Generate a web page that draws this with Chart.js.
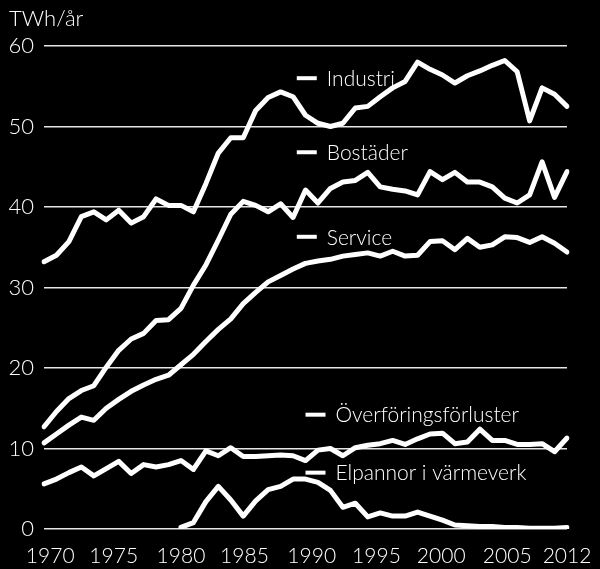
<!DOCTYPE html>
<html>
<head>
<meta charset="utf-8">
<script src="https://cdn.jsdelivr.net/npm/chart.js@4.4.1/dist/chart.umd.min.js"></script>
<style>
  html, body { margin: 0; padding: 0; background: #000; }
  #wrap { width: 600px; height: 569px; }
</style>
</head>
<body>
<div id="wrap"><canvas id="chart" width="600" height="569"></canvas></div>
<script>
const years = ['1970','1971','1972','1973','1974','1975','1976','1977','1978','1979',
  '1980','1981','1982','1983','1984','1985','1986','1987','1988','1989',
  '1990','1991','1992','1993','1994','1995','1996','1997','1998','1999',
  '2000','2001','2002','2003','2004','2005','2006','2007','2008','2009',
  '2010','2011','2012'];
const tickLabels = ['1970','1975','1980','1985','1990','1995','2000','2005','2012'];
// the source spaces its year labels evenly, a little off the data grid
const tickLabelAt = [1970.5, 1975.6, 1981.0, 1986.1, 1991.5, 1996.7, 2001.9, 2007.2, 2012];

const industri = [33.2, 34.0, 35.7, 38.8, 39.4, 38.4, 39.6, 38.0, 38.8, 41.0,
  40.2, 40.2, 39.4, 42.9, 46.7, 48.6, 48.6, 52.0, 53.6, 54.3,
  53.7, 51.4, 50.4, 50.0, 50.4, 52.3, 52.5, 53.7, 54.8, 55.6,
  58.0, 57.1, 56.4, 55.4, 56.3, 56.9, 57.6, 58.2, 56.8, 50.7,
  54.8, 54.0, 52.5];
const bostader = [12.7, 14.6, 16.2, 17.2, 17.8, 20.1, 22.2, 23.6, 24.3, 25.9,
  26.0, 27.4, 30.3, 32.8, 35.9, 39.1, 40.7, 40.2, 39.4, 40.4,
  38.7, 42.1, 40.5, 42.3, 43.1, 43.3, 44.3, 42.5, 42.2, 42.0,
  41.5, 44.4, 43.4, 44.3, 43.1, 43.1, 42.5, 41.1, 40.5, 41.5,
  45.6, 41.2, 44.4];
const service = [10.7, 11.8, 12.9, 13.9, 13.5, 15.0, 16.1, 17.1, 17.9, 18.6,
  19.1, 20.4, 21.7, 23.3, 24.8, 26.1, 28.0, 29.4, 30.7, 31.5,
  32.3, 33.0, 33.3, 33.5, 33.9, 34.1, 34.3, 33.9, 34.5, 33.9,
  34.0, 35.7, 35.8, 34.7, 36.1, 35.0, 35.3, 36.3, 36.2, 35.6,
  36.3, 35.5, 34.4];
const overforing = [5.6, 6.2, 7.0, 7.7, 6.6, 7.5, 8.4, 6.9, 8.0, 7.7,
  8.0, 8.5, 7.4, 9.7, 9.1, 10.1, 9.0, 9.0, 9.1, 9.2,
  9.1, 8.5, 9.8, 10.0, 9.1, 10.1, 10.4, 10.6, 11.0, 10.5,
  11.2, 11.8, 11.9, 10.6, 10.8, 12.4, 11.0, 11.0, 10.5, 10.5,
  10.6, 9.6, 11.3];
const elpannor = [null, null, null, null, null, null, null, null, null, null,
  null, 0.2, 0.8, 3.4, 5.3, 3.6, 1.6, 3.5, 4.9, 5.3,
  6.2, 6.2, 5.8, 4.8, 2.7, 3.2, 1.5, 2.0, 1.6, 1.6,
  2.1, 1.6, 1.1, 0.5, 0.4, 0.3, 0.3, 0.2, 0.2, 0.1,
  0.1, 0.1, 0.2];

const seriesNames = ['Industri', 'Bostäder', 'Service', 'Överföringsförluster', 'Elpannor i värmeverk'];
const seriesValues = [industri, bostader, service, overforing, elpannor];
// where each inline label sits (category index, value)
const labelIndex = [20.3, 20.3, 20.3, 21.0, 21.0];
const labelValue = [56.0, 46.8, 36.3, 14.2, 7.0];

const FONT = '"Lato Light", Lato, "Open Sans", sans-serif';

const inlineLabels = {
  id: 'inlineLabels',
  afterDatasetsDraw(chart) {
    const ctx = chart.ctx;
    const xs = chart.scales.x, ys = chart.scales.y;
    ctx.save();
    ctx.fillStyle = '#fff';
    ctx.strokeStyle = '#fff';
    ctx.lineWidth = 4;
    ctx.lineCap = 'butt';
    ctx.font = '300 21px ' + FONT;
    ctx.textBaseline = 'middle';
    seriesNames.forEach((name, i) => {
      const px = xs.getPixelForValue(labelIndex[i]);
      const py = ys.getPixelForValue(labelValue[i]);
      ctx.beginPath();
      ctx.moveTo(px, py);
      ctx.lineTo(px + 20, py);
      ctx.stroke();
      ctx.fillText(name, px + 30, py + 1);
    });
    // unit
    ctx.font = '300 22px ' + FONT;
    ctx.textBaseline = 'alphabetic';
    ctx.fillText('TWh/år', 9, 26);
    ctx.restore();
  }
};

new Chart(document.getElementById('chart'), {
  type: 'line',
  data: {
    labels: years,
    datasets: seriesValues.map((vals, i) => ({
      label: seriesNames[i],
      data: vals,
      borderColor: '#fff',
      borderWidth: 5,
      pointRadius: 0,
      tension: 0,
      borderJoinStyle: 'round',
      borderCapStyle: 'round',
      spanGaps: false
    }))
  },
  options: {
    responsive: false,
    animation: false,
    layout: { padding: { top: 46, right: 33, left: 0, bottom: 0 } },
    plugins: {
      legend: { display: false },
      tooltip: { enabled: false }
    },
    scales: {
      x: {
        type: 'category',
        offset: false,
        afterFit(scale) {
          scale.height = 0;
          scale.paddingLeft = 0;
          scale.paddingRight = 0;
        },
        grid: { display: false, drawTicks: false },
        border: { display: false },
        ticks: { display: false }
      },
      yearAxis: {
        type: 'linear',
        position: 'bottom',
        min: 1970,
        max: 2012,
        afterFit(scale) {
          scale.height = 40;
          // the 2012 label may hang into the right margin
          scale.paddingLeft = 0;
          scale.paddingRight = 0;
        },
        afterBuildTicks(scale) {
          scale.ticks = [1970].concat(tickLabelAt).map(v => ({ value: v }));
        },
        grid: { display: false, drawTicks: false },
        border: { display: false },
        ticks: {
          autoSkip: false,
          maxRotation: 0,
          padding: 15,
          color: '#fff',
          font: { family: FONT, size: 21, weight: 300 },
          callback(value, index) { return index === 0 ? '' : tickLabels[index - 1]; }
        }
      },
      y: {
        min: 0,
        max: 60,
        afterFit(scale) { scale.width = 44; },
        grid: { color: 'rgba(255,255,255,0.9)', lineWidth: 1.5, drawTicks: false },
        border: { display: false },
        ticks: {
          stepSize: 10,
          padding: 10,
          color: '#fff',
          font: { family: FONT, size: 22, weight: 300 }
        }
      }
    }
  },
  plugins: [inlineLabels]
});
</script>
</body>
</html>
